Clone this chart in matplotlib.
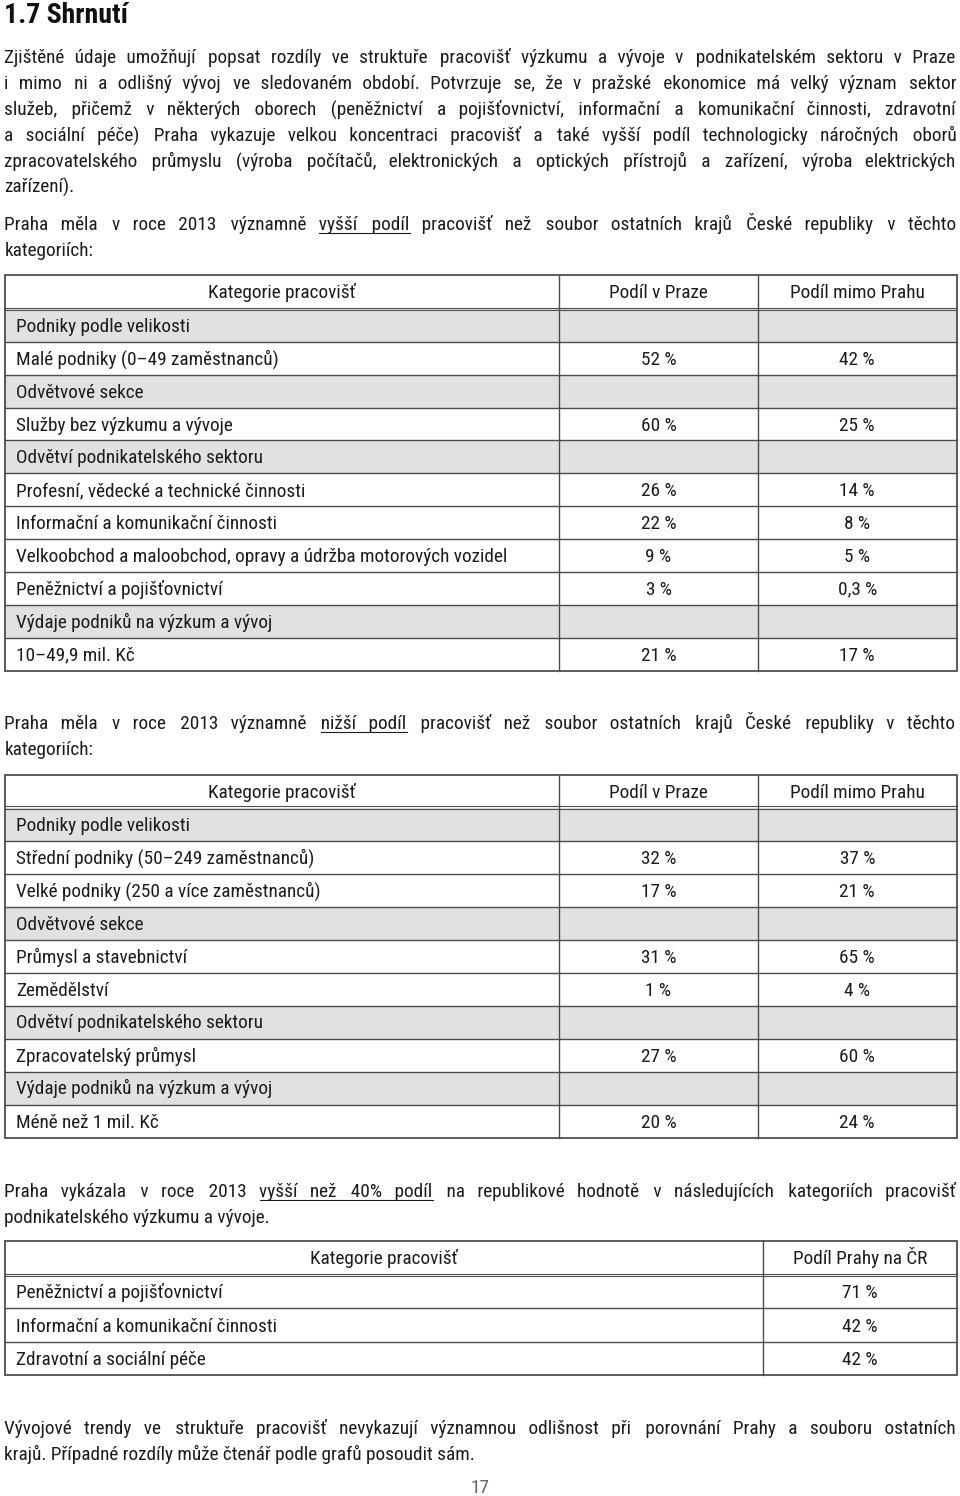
import matplotlib
matplotlib.use("Agg")
import matplotlib.pyplot as plt
from matplotlib import font_manager
from matplotlib.patches import Rectangle
from matplotlib.lines import Line2D

# ---------------- data ----------------
title = "1.7 Shrnutí"

intro_lines = [
    "Zjištěné údaje umožňují popsat rozdíly ve struktuře pracovišť výzkumu a vývoje v podnikatelském sektoru v Praze",
    "i mimo ni a odlišný vývoj ve sledovaném období. Potvrzuje se, že v pražské ekonomice má velký význam sektor",
    "služeb, přičemž v některých oborech (peněžnictví a pojišťovnictví, informační a komunikační činnosti, zdravotní",
    "a sociální péče) Praha vykazuje velkou koncentraci pracovišť a také vyšší podíl technologicky náročných oborů",
    "zpracovatelského průmyslu (výroba počítačů, elektronických a optických přístrojů a zařízení, výroba elektrických",
    "zařízení).",
]
higher_lines = [
    "Praha měla v roce 2013 významně vyšší podíl pracovišť než soubor ostatních krajů České republiky v těchto",
    "kategoriích:",
]
lower_lines = [
    "Praha měla v roce 2013 významně nižší podíl pracovišť než soubor ostatních krajů České republiky v těchto",
    "kategoriích:",
]
over40_lines = [
    "Praha vykázala v roce 2013 vyšší než 40% podíl na republikové hodnotě v následujících kategoriích pracovišť",
    "podnikatelského výzkumu a vývoje.",
]
closing_lines = [
    "Vývojové trendy ve struktuře pracovišť nevykazují významnou odlišnost při porovnání Prahy a souboru ostatních",
    "krajů. Případné rozdíly může čtenář podle grafů posoudit sám.",
]
page_number = "17"

headers_2col = ["Kategorie pracovišť", "Podíl v Praze", "Podíl mimo Prahu"]
headers_1col = ["Kategorie pracovišť", "Podíl Prahy na ČR"]

t1_labels = ["Podniky podle velikosti", "Malé podniky (0–49 zaměstnanců)", "Odvětvové sekce",
             "Služby bez výzkumu a vývoje", "Odvětví podnikatelského sektoru",
             "Profesní, vědecké a technické činnosti", "Informační a komunikační činnosti",
             "Velkoobchod a maloobchod, opravy a údržba motorových vozidel",
             "Peněžnictví a pojišťovnictví", "Výdaje podniků na výzkum a vývoj", "10–49,9 mil. Kč"]
t1_praha = [None, 52, None, 60, None, 26, 22, 9, 3, None, 21]
t1_mimo = [None, 42, None, 25, None, 14, 8, 5, 0.3, None, 17]

t2_labels = ["Podniky podle velikosti", "Střední podniky (50–249 zaměstnanců)",
             "Velké podniky (250 a více zaměstnanců)", "Odvětvové sekce", "Průmysl a stavebnictví",
             "Zemědělství", "Odvětví podnikatelského sektoru", "Zpracovatelský průmysl",
             "Výdaje podniků na výzkum a vývoj", "Méně než 1 mil. Kč"]
t2_praha = [None, 32, 17, None, 31, 1, None, 27, None, 20]
t2_mimo = [None, 37, 21, None, 65, 4, None, 60, None, 24]

t3_labels = ["Peněžnictví a pojišťovnictví", "Informační a komunikační činnosti",
             "Zdravotní a sociální péče"]
t3_share = [71, 42, 42]

# ---------------- setup ----------------
W, H = 960, 1496
fig = plt.figure(figsize=(W / 100, H / 100), dpi=100, facecolor="white")
ax = fig.add_axes([0, 0, 1, 1])
ax.set_xlim(0, W)
ax.set_ylim(H, 0)
ax.axis("off")
renderer = fig.canvas.get_renderer()

names = {f.name for f in font_manager.fontManager.ttflist}
MAIN = "DejaVu Sans"
for cand in ["Roboto Condensed", "Noto Sans Condensed", "Open Sans Condensed",
             "Liberation Sans Narrow", "DejaVu Sans Condensed", "Lato"]:
    if cand in names:
        MAIN = cand
        break
FAMILY = [MAIN, "DejaVu Sans"]

TXT = "#1c1c1c"
GRAY = "#e1e1e1"
LINE = "#4d4d4d"
PX = 0.72  # points per pixel


def tw(s, size, weight="normal"):
    t = ax.text(0, 0, s, fontsize=size, family=FAMILY, weight=weight)
    w = t.get_window_extent(renderer).width
    t.remove()
    return w


BODY = 10 * 490 / tw(t1_labels[7], 10)
just_lines = intro_lines[:-1] + [higher_lines[0], lower_lines[0], over40_lines[0], closing_lines[0]]
widest = max(tw(l, BODY) for l in just_lines)
if widest > 940:
    BODY *= 940 / widest
TITLE = 10 * 124 / tw(title, 10, "bold")
SP = tw("a a", BODY) - tw("aa", BODY)
SMALL, HS = " ", SP
for ch in ["\u200a", "\u2009", "\u2006", "\u2005"]:
    w = tw("a" + ch + "a", BODY) - tw("aa", BODY)
    if 0.4 < w < SP:
        SMALL, HS = ch, w
        break

X0, X1 = 4.5, 956.5


def justified(words, target):
    n = len(words) - 1
    ww = [tw(w, BODY) for w in words]
    g = (target - sum(ww)) / n
    base = " " if g >= SP else ""
    bw = SP if base else 0.0
    counts, des, act = [], 0.0, 0.0
    for i in range(n):
        des += g
        k = max(0, int(round((des - act - bw) / HS)))
        counts.append(k)
        act += bw + k * HS

    def make(c):
        return words[0] + "".join(base + SMALL * c[i] + words[i + 1] for i in range(n))

    s = make(counts)
    for _ in range(4):
        m = int(round((target - tw(s, BODY)) / HS))
        if m == 0:
            break
        for j in range(abs(m)):
            idx = min(n - 1, int((j + 0.5) * n / abs(m)))
            counts[idx] = max(0, counts[idx] + (1 if m > 0 else -1))
        s = make(counts)
    seps = [base + SMALL * c for c in counts]
    return s, seps


def put_line(line, y, justify, underline=None):
    words = line.split(" ")
    if justify and len(words) > 1:
        s, seps = justified(words, X1 - X0)
    else:
        s, seps = line, [" "] * (len(words) - 1)
    ax.text(X0, y, s, fontsize=BODY, family=FAMILY, color=TXT, ha="left", va="baseline")
    if underline:
        i0, i1 = underline
        starts = [0]
        for i, w in enumerate(words[:-1]):
            starts.append(starts[-1] + len(w) + len(seps[i]))
        end_idx = starts[i1] + len(words[i1])
        x_end = X0 + tw(s[:end_idx], BODY)
        x_start = x_end - tw(s[starts[i0]:end_idx], BODY)
        ax.add_line(Line2D([x_start, x_end], [y + 3, y + 3], color=TXT, lw=1.1 * PX))


def paragraph(lines, y0, underline=None):
    for k, l in enumerate(lines):
        put_line(l, y0 + 26 * k, k < len(lines) - 1, underline if k == 0 else None)


def fmt(v):
    return ("%g" % v).replace(".", ",") + " %"


def table(top, hb, bottom, cols, headers, labels, values):
    n = len(labels)
    rh = (bottom - hb) / n
    for i, lab in enumerate(labels):
        y0 = hb + i * rh
        vals = [v[i] for v in values]
        if all(v is None for v in vals):
            ax.add_patch(Rectangle((cols[0], y0), cols[-1] - cols[0], rh, fc=GRAY, ec="none", zorder=0))
        ax.text(16, y0 + rh / 2 + 6.5, lab, fontsize=BODY, family=FAMILY, color=TXT, va="baseline")
        for j, v in enumerate(vals):
            if v is not None:
                ax.text((cols[j + 1] + cols[j + 2]) / 2, y0 + rh / 2 + 6.5, fmt(v), fontsize=BODY,
                        family=FAMILY, color=TXT, ha="center", va="baseline")
        if i > 0:
            ax.add_line(Line2D([cols[0], cols[-1]], [y0, y0], color=LINE, lw=1.4 * PX))
    hy = (top + hb) / 2 + 6.5
    for j, h in enumerate(headers):
        ax.text((cols[j] + cols[j + 1]) / 2, hy, h, fontsize=BODY, family=FAMILY, color=TXT,
                ha="center", va="baseline")
    for d in (-1.3, 1.3):
        ax.add_line(Line2D([cols[0], cols[-1]], [hb + d, hb + d], color=LINE, lw=1.1 * PX))
    for c in cols[1:-1]:
        ax.add_line(Line2D([c, c], [top, bottom], color=LINE, lw=1.4 * PX))
    ax.add_patch(Rectangle((cols[0], top), cols[-1] - cols[0], bottom - top, fc="none",
                           ec=LINE, lw=1.8 * PX, zorder=3))


# ---------------- draw ----------------
ax.text(X0, 23, title, fontsize=TITLE, family=FAMILY, weight="bold", color="#111111",
        ha="left", va="baseline")
paragraph(intro_lines, 63)
paragraph(higher_lines, 230, underline=(6, 7))
table(274.5, 309, 670.5, [4.5, 559, 758, 956.5], headers_2col, t1_labels, [t1_praha, t1_mimo])
paragraph(lower_lines, 729, underline=(6, 7))
table(775, 807.5, 1137.5, [4.5, 559, 758, 956.5], headers_2col, t2_labels, [t2_praha, t2_mimo])
paragraph(over40_lines, 1197, underline=(5, 8))
table(1241, 1275, 1375, [4.5, 763, 956.5], headers_1col, t3_labels, [t3_share])
paragraph(closing_lines, 1434)
ax.text(480, 1493, page_number, fontsize=BODY, family=FAMILY, color="#666666", ha="center",
        va="baseline")

fig.savefig("out.png", dpi=100, facecolor="white")
